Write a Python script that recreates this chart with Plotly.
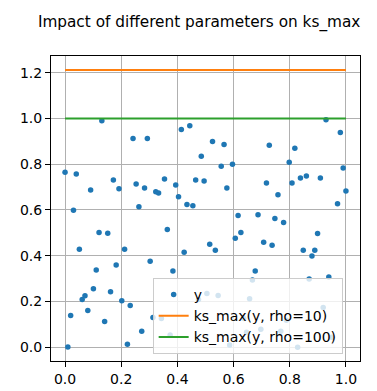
import plotly.graph_objects as go

# sample points (x, y)
x_pts = [0.000, 0.010, 0.020, 0.030, 0.040, 0.051, 0.061, 0.071, 0.081, 0.091,
         0.101, 0.111, 0.121, 0.131, 0.141, 0.152, 0.162, 0.172, 0.182, 0.192,
         0.202, 0.212, 0.222, 0.232, 0.242, 0.253, 0.263, 0.273, 0.283, 0.293,
         0.303, 0.313, 0.323, 0.333, 0.343, 0.354, 0.364, 0.374, 0.384, 0.394,
         0.404, 0.414, 0.424, 0.434, 0.444, 0.455, 0.465, 0.475, 0.485, 0.495,
         0.505, 0.515, 0.525, 0.535, 0.545, 0.556, 0.566, 0.576, 0.586, 0.596,
         0.606, 0.616, 0.626, 0.636, 0.646, 0.657, 0.667, 0.677, 0.687, 0.697,
         0.707, 0.717, 0.727, 0.737, 0.747, 0.758, 0.768, 0.778, 0.788, 0.798,
         0.808, 0.818, 0.828, 0.838, 0.848, 0.859, 0.869, 0.879, 0.889, 0.899,
         0.909, 0.919, 0.929, 0.939, 0.949, 0.970, 0.980, 0.990, 1.000]
y_pts = [0.765, 0.001, 0.138, 0.598, 0.757, 0.428, 0.208, 0.225, 0.160, 0.687,
         0.255, 0.337, 0.501, 0.990, 0.112, 0.498, 0.242, 0.731, 0.359, 0.692,
         0.203, 0.428, 0.013, 0.182, 0.912, 0.713, 0.614, 0.069, 0.696, 0.912,
         0.376, 0.130, 0.679, 0.674, 0.125, 0.735, 0.514, 0.053, 0.333, 0.709,
         0.657, 0.951, 0.415, 0.623, 0.968, 0.618, 0.731, 0.208, 0.834, 0.726,
         0.235, 0.450, 0.899, 0.424, 0.226, 0.791, 0.886, 0.696, 0.009, 0.800,
         0.476, 0.575, 0.501, 0.125, 0.065, 0.212, 0.294, 0.333, 0.579, 0.078,
         0.458, 0.718, 0.882, 0.445, 0.562, 0.666, 0.069, 0.545, 0.117, 0.808,
         0.718, 0.869, 0.000, 0.739, 0.424, 0.748, 0.298, 0.398, 0.424, 0.497,
         0.739, 0.173, 0.994, 0.307, 0.043, 0.627, 0.938, 0.783, 0.683]

line_x = [0.0, 1.0]
ks_rho10 = [1.212, 1.212]
ks_rho100 = [0.9995, 0.9995]

x_ticks = [0.0, 0.2, 0.4, 0.6, 0.8, 1.0]
y_ticks = [0.0, 0.2, 0.4, 0.6, 0.8, 1.0, 1.2]

FONT = "DejaVu Sans"

fig = go.Figure()
fig.add_trace(go.Scatter(x=x_pts, y=y_pts, mode="markers", name="y",
                         marker=dict(color="#1f77b4", size=5.5)))
fig.add_trace(go.Scatter(x=line_x, y=ks_rho10, mode="lines", name="ks_max(y, rho=10)",
                         line=dict(color="#ff7f0e", width=2)))
fig.add_trace(go.Scatter(x=line_x, y=ks_rho100, mode="lines", name="ks_max(y, rho=100)",
                         line=dict(color="#2ca02c", width=2)))

axis_common = dict(showline=True, linecolor="black", linewidth=1, mirror=True,
                   ticks="outside", ticklen=5, tickcolor="black", tickwidth=1,
                   showgrid=True, gridcolor="#b0b0b0", gridwidth=1, zeroline=False,
                   tickfont=dict(family=FONT, size=14, color="black"))

fig.update_xaxes(range=[-0.05, 1.05], tickvals=x_ticks, tickformat=".1f", **axis_common)
fig.update_yaxes(range=[-0.0606, 1.2727], tickvals=y_ticks, tickformat=".1f", **axis_common)

fig.update_layout(
    width=377, height=391,
    margin=dict(l=42, r=25, t=48, b=34),
    paper_bgcolor="white", plot_bgcolor="white",
    title=dict(text="Impact of different parameters on ks_max", x=0.507, xanchor="center",
               xref="container", y=0.965, yanchor="middle",
               font=dict(family=FONT, size=15.3, color="black")),
    showlegend=True,
    legend=dict(x=0.329, y=0.023, xanchor="left", yanchor="bottom",
                bgcolor="rgba(255,255,255,0.8)", bordercolor="#cccccc", borderwidth=1,
                font=dict(family=FONT, size=14, color="black"), tracegroupgap=0),
    font=dict(family=FONT),
)

fig.write_html("out.html")
